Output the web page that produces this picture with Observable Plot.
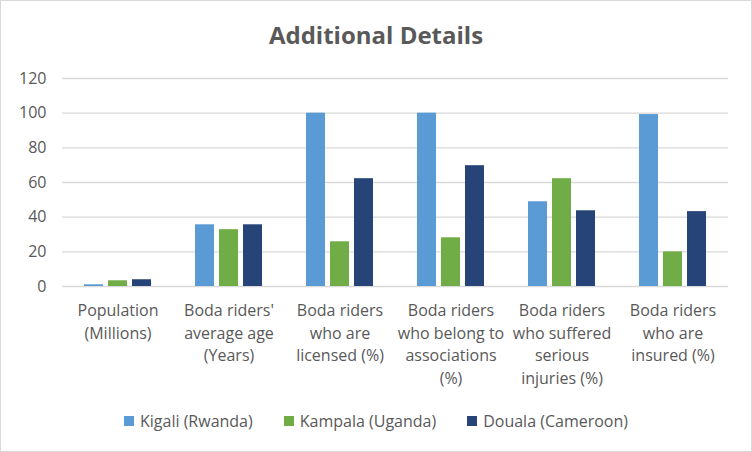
<!DOCTYPE html>
<html>
<head>
<meta charset="utf-8">
<script src="https://cdn.jsdelivr.net/npm/d3@7"></script>
<script src="https://cdn.jsdelivr.net/npm/@observablehq/plot@0.6"></script>
<style>
  html, body { margin: 0; padding: 0; background: #fff; }
  body { width: 752px; height: 452px; position: relative; overflow: hidden; font-family: "Open Sans", sans-serif; color: #595959; }
  #frame { position: absolute; left: 0; top: 0; width: 752px; height: 452px; box-sizing: border-box; border: 1.5px solid #d9d9d9; pointer-events: none; }
  #title { position: absolute; left: 0; top: 18px; width: 752px; text-align: center; font-size: 24px; font-weight: 700; line-height: 34px; color: #595959; }
  #chart { position: absolute; left: 0; top: 60px; }
  #legend { position: absolute; left: 0; top: 409px; width: 752px; display: flex; justify-content: center; gap: 31px; font-size: 16px; line-height: 24px; color: #595959; }
  .item { display: flex; align-items: center; gap: 6px; }
  .sw { width: 10px; height: 10px; display: inline-block; }
</style>
</head>
<body>
<div id="title">Additional Details</div>
<div id="chart"></div>
<div id="legend"></div>
<div id="frame"></div>
<script>
const categories = [
  "Population\n(Millions)",
  "Boda riders'\naverage age\n(Years)",
  "Boda riders\nwho are\nlicensed (%)",
  "Boda riders\nwho belong to\nassociations\n(%)",
  "Boda riders\nwho suffered\nserious\ninjuries (%)",
  "Boda riders\nwho are\ninsured (%)"
];
const seriesNames = ["Kigali (Rwanda)", "Kampala (Uganda)", "Douala (Cameroon)"];
const kigali  = [1.0, 35.6, 100, 100, 48.9, 99.2];
const kampala = [3.3, 32.8, 25.8, 28.1, 62.2, 20.0];
const douala  = [3.9, 35.6, 62.2, 69.7, 43.7, 43.2];
const colors = ["#5B9BD5", "#70AD47", "#264478"];
const yTicks = [0, 20, 40, 60, 80, 100, 120];

const seriesValues = [kigali, kampala, douala];
const data = [];
categories.forEach((c, i) => {
  seriesNames.forEach((s, j) => {
    data.push({category: c, series: s, value: seriesValues[j][i]});
  });
});

const plot = Plot.plot({
  width: 752,
  height: 335,
  marginTop: 18,
  marginLeft: 60,
  marginRight: 22,
  marginBottom: 109,
  style: {fontFamily: "Open Sans, sans-serif", fontSize: "16px", color: "#595959", background: "transparent"},
  fx: {domain: categories, padding: 0},
  x: {domain: seriesNames, paddingInner: 0.206, paddingOuter: 0.9, axis: null},
  y: {domain: [0, 120]},
  color: {domain: seriesNames, range: colors},
  marks: [
    Plot.gridY(yTicks, {stroke: "#d9d9d9", strokeOpacity: 1, strokeWidth: 1.3}),
    Plot.axisY(yTicks, {tickSize: 0, tickPadding: 16, fontSize: 16, label: null, fill: "#595959"}),
    Plot.axisFx({anchor: "bottom", tickSize: 0, tickPadding: 14, fontSize: 16, lineHeight: 1.4, label: null, fill: "#595959"}),
    Plot.barY(data, {fx: "category", x: "series", y: "value", fill: "series"})
  ]
});
document.getElementById("chart").appendChild(plot);

const legend = document.getElementById("legend");
seriesNames.forEach((s, j) => {
  const item = document.createElement("div");
  item.className = "item";
  const sw = document.createElement("span");
  sw.className = "sw";
  sw.style.background = colors[j];
  const t = document.createElement("span");
  t.textContent = s;
  item.appendChild(sw);
  item.appendChild(t);
  legend.appendChild(item);
});
</script>
</body>
</html>
